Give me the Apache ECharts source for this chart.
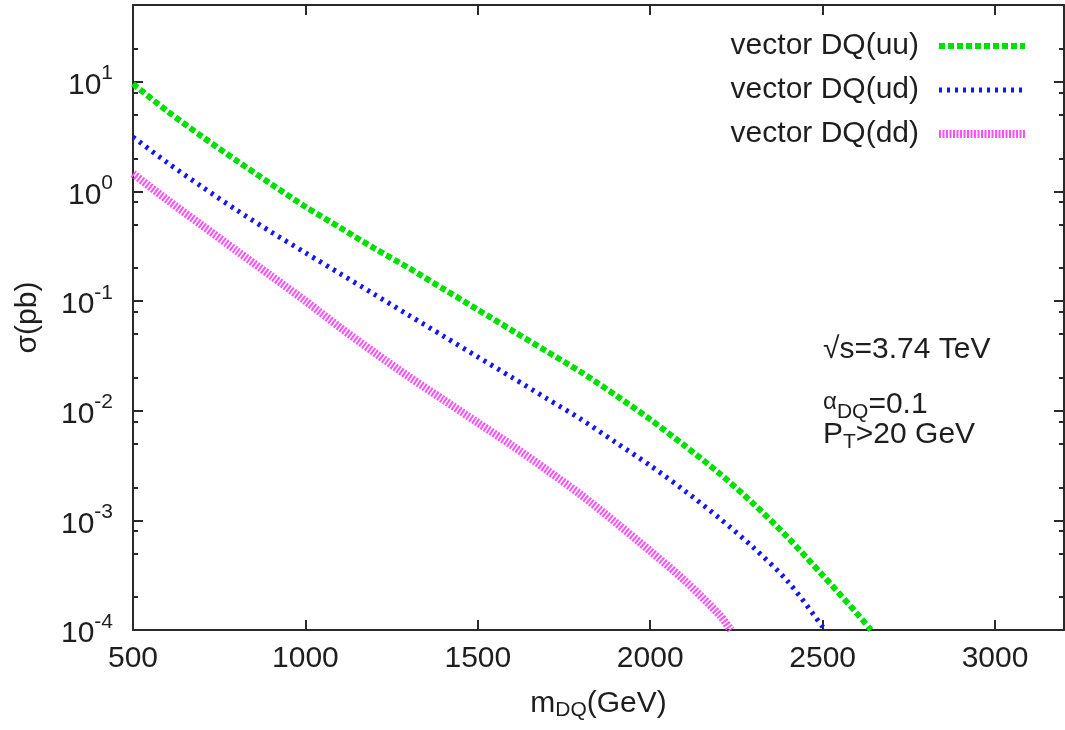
<!DOCTYPE html>
<html><head><meta charset="utf-8">
<script src="https://cdn.jsdelivr.net/npm/echarts@6/dist/echarts.min.js"></script>
<style>html,body{margin:0;padding:0;background:#fff}#c{width:1065px;height:730px}</style>
</head><body><div id="c"></div>
<script>
// ---- data ----
const seriesNames = ['vector DQ(uu)', 'vector DQ(ud)', 'vector DQ(dd)'];
const massUU = [500,600,700,800,900,1000,1100,1200,1300,1400,1500,1600,1700,1800,1900,2000,2100,2200,2300,2400,2500,2600,2640];
const sigmaUU = [9.55,5.37,3.16,1.91,1.17,0.724,0.468,0.302,0.200,0.129,0.0832,0.0537,0.0347,0.0224,0.0138,0.00832,0.00479,0.00269,0.00141,0.000692,0.000316,0.000141,0.0001];
const massUD = [500,600,700,800,900,1000,1100,1200,1300,1400,1500,1600,1700,1800,1900,2000,2100,2200,2300,2400,2500,2505];
const sigmaUD = [3.13,1.82,1.10,0.676,0.427,0.275,0.178,0.115,0.0741,0.0479,0.0309,0.0200,0.0129,0.00832,0.00513,0.00316,0.00186,0.00105,0.000562,0.000275,0.000107,0.0001];
const massDD = [500,600,700,800,900,1000,1100,1200,1300,1400,1500,1600,1700,1800,1900,2000,2100,2200,2234];
const sigmaDD = [1.45,0.832,0.490,0.288,0.170,0.100,0.0575,0.0339,0.0204,0.0126,0.00776,0.00479,0.00288,0.00170,0.000955,0.000525,0.000282,0.000138,0.0001];
const xTicks = [500,1000,1500,2000,2500,3000];
const yMajorTicks = [1e-4,1e-3,1e-2,1e-1,1,10];
const yMinorTicks = [2e-4,5e-4,8e-4,2e-3,5e-3,8e-3,2e-2,5e-2,8e-2,0.2,0.5,0.8,2,5,8,20];

const F = '"Liberation Sans", Arial, Helvetica, sans-serif';
const TXT = '#1e1e1e';
const AX = '#2a2a2a';
const C = ['#00e000', '#1414ff', '#ff50ff'];
const LS = [
  {color:C[0], width:6, type:[6,3], cap:'butt'},
  {color:C[1], width:5, type:[3,5], cap:'butt'},
  {color:C[2], width:8, type:[2,1.5], cap:'butt'}
];

function zip(xs, ys){ return xs.map((x,i)=>[x, ys[i]]); }

const chart = echarts.init(document.getElementById('c'), null, {renderer:'canvas'});

const yBase = {type:'log', logBase:10, min:1e-4, max:50, gridIndex:0, splitLine:{show:false}};
const xBase = {type:'value', min:500, max:3200, interval:500, splitLine:{show:false}};

const option = {
  animation:false,
  backgroundColor:'#fff',
  grid:{left:133, right:1, top:5, bottom:100, containLabel:false},
  legend:{
    orient:'vertical', right:31, top:26, align:'right',
    itemWidth:86, itemHeight:14, itemGap:14,
    itemStyle:{opacity:0},
    textStyle:{fontSize:30, fontFamily:F, color:TXT, lineHeight:30, padding:[0,15,0,0]},
    data:seriesNames.map((n,i)=>({name:n, lineStyle:Object.assign({}, LS[i]), itemStyle:{opacity:0}}))
  },
  xAxis:[
    Object.assign({}, xBase, {position:'bottom',
      axisLine:{show:true, lineStyle:{color:AX, width:2}},
      axisTick:{show:true, inside:true, length:10, lineStyle:{color:AX, width:2}, customValues:xTicks},
      axisLabel:{show:true, margin:14, fontSize:30, fontFamily:F, color:TXT, customValues:xTicks, formatter:v=>String(v)},
      name:'{m|m}{sub|DQ}{m|(GeV)}', nameLocation:'middle', nameGap:56,
      nameTextStyle:{rich:{m:{fontSize:30, fontFamily:F, color:TXT}, sub:{fontSize:21, fontFamily:F, color:TXT, padding:[14,0,0,0]}}}
    }),
    Object.assign({}, xBase, {position:'top',
      axisLine:{show:true, lineStyle:{color:AX, width:2}},
      axisTick:{show:true, inside:true, length:10, lineStyle:{color:AX, width:2}, customValues:xTicks},
      axisLabel:{show:false}
    })
  ],
  yAxis:[
    Object.assign({}, yBase, {position:'left',
      axisLine:{show:true, lineStyle:{color:AX, width:2}},
      axisTick:{show:true, inside:true, length:10, lineStyle:{color:AX, width:2}, customValues:yMajorTicks},
      axisLabel:{show:true, margin:20, customValues:yMajorTicks,
        formatter:function(v){ const l = Math.log10(v); const e = Math.round(l); if (Math.abs(l-e)>1e-6) return ''; return '{b|10}{s|'+e+'}'; },
        rich:{b:{fontSize:30, fontFamily:F, color:TXT, padding:[8,0,0,0]}, s:{fontSize:21, fontFamily:F, color:TXT, padding:[0,0,16,0]}}
      },
      name:'σ(pb)', nameLocation:'middle', nameGap:90,
      nameTextStyle:{fontSize:30, fontFamily:F, color:TXT}
    }),
    Object.assign({}, yBase, {position:'left',
      axisLine:{show:false},
      axisTick:{show:true, inside:true, length:5, lineStyle:{color:AX, width:2}, customValues:yMinorTicks},
      axisLabel:{show:false}
    }),
    Object.assign({}, yBase, {position:'right',
      axisLine:{show:true, lineStyle:{color:AX, width:2}},
      axisTick:{show:true, inside:true, length:10, lineStyle:{color:AX, width:2}, customValues:yMajorTicks},
      axisLabel:{show:false}
    }),
    Object.assign({}, yBase, {position:'right',
      axisLine:{show:false},
      axisTick:{show:true, inside:true, length:5, lineStyle:{color:AX, width:2}, customValues:yMinorTicks},
      axisLabel:{show:false}
    })
  ],
  series:[
    {name:seriesNames[0], type:'line', xAxisIndex:0, yAxisIndex:0, data:zip(massUU, sigmaUU), symbol:'none', smooth:0.3,
      lineStyle:LS[0], itemStyle:{color:C[0]}},
    {name:seriesNames[1], type:'line', xAxisIndex:0, yAxisIndex:0, data:zip(massUD, sigmaUD), symbol:'none', smooth:0.3,
      lineStyle:LS[1], itemStyle:{color:C[1]}},
    {name:seriesNames[2], type:'line', xAxisIndex:0, yAxisIndex:0, data:zip(massDD, sigmaDD), symbol:'none', smooth:0.3,
      lineStyle:LS[2], itemStyle:{color:C[2]}}
  ],
  graphic:[
    {type:'text', left:823, top:335, style:{text:'√s=3.74 TeV', font:'30px '+F, fill:TXT}},
    {type:'text', left:823, top:390, style:{text:'{a|α}{sub|DQ}{t|=0.1}', fill:TXT,
      rich:{a:{fontSize:24, fontFamily:F, fill:TXT, padding:[0,0,6,0]}, t:{fontSize:30, fontFamily:F, fill:TXT}, sub:{fontSize:21, fontFamily:F, fill:TXT, padding:[14,0,0,0]}}}},
    {type:'text', left:823, top:420, style:{text:'{t|P}{sub|T}{t|>20 GeV}', fill:TXT,
      rich:{t:{fontSize:30, fontFamily:F, fill:TXT}, sub:{fontSize:21, fontFamily:F, fill:TXT, padding:[14,0,0,0]}}}}
  ]
};
chart.setOption(option);
</script>
</body></html>
